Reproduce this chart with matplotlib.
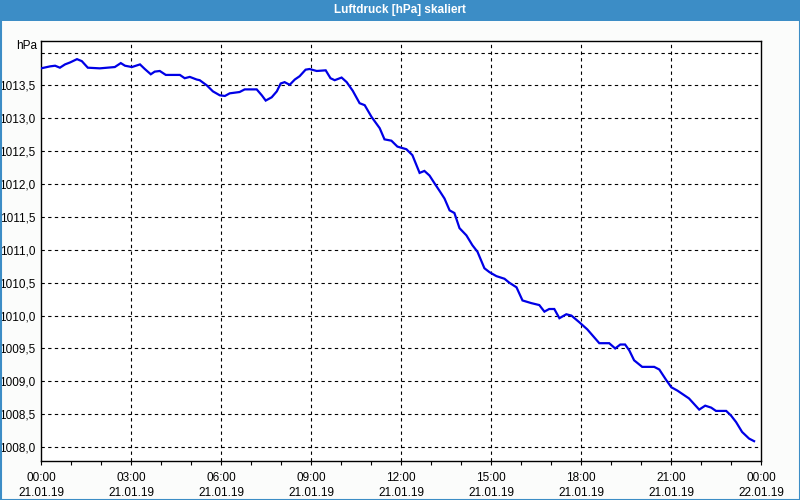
import matplotlib
matplotlib.use("Agg")
import matplotlib.pyplot as plt
from matplotlib.patches import Rectangle
from matplotlib.ticker import FixedLocator, MultipleLocator

plt.rcParams['font.family'] = ['Liberation Sans', 'DejaVu Sans']

# Data: time in hours since 21.01.19 00:00, pressure in hPa
hours = [0.00, 0.30, 0.47, 0.63, 0.80, 0.97, 1.20, 1.36, 1.56, 1.96, 2.46, 2.66, 2.80,
         3.03, 3.30, 3.46, 3.66, 3.79, 3.96, 4.16, 4.63, 4.79, 4.96, 5.19, 5.29, 5.53,
         5.73, 5.96, 6.13, 6.29, 6.62, 6.79, 7.19, 7.36, 7.49, 7.69, 7.86, 7.99, 8.12,
         8.29, 8.46, 8.62, 8.82, 8.95, 9.19, 9.49, 9.65, 9.79, 10.02, 10.19, 10.39,
         10.62, 10.79, 11.02, 11.29, 11.45, 11.68, 11.88, 12.18, 12.38, 12.62, 12.78,
         12.95, 13.12, 13.28, 13.45, 13.62, 13.78, 13.95, 14.18, 14.38, 14.55, 14.78,
         14.95, 15.18, 15.45, 15.61, 15.85, 16.05, 16.34, 16.61, 16.78, 16.94, 17.11,
         17.28, 17.51, 17.68, 17.94, 18.21, 18.61, 18.94, 19.14, 19.31, 19.47, 19.61,
         19.77, 20.04, 20.44, 20.61, 20.84, 21.01, 21.21, 21.60, 21.94, 22.14, 22.34,
         22.50, 22.84, 23.00, 23.17, 23.37, 23.60, 23.77]
pressure = [1013.76, 1013.79, 1013.80, 1013.77, 1013.82, 1013.85, 1013.90, 1013.87,
            1013.77, 1013.76, 1013.78, 1013.84, 1013.80, 1013.78, 1013.82, 1013.75,
            1013.67, 1013.71, 1013.72, 1013.66, 1013.66, 1013.61, 1013.63, 1013.59,
            1013.58, 1013.50, 1013.41, 1013.35, 1013.34, 1013.38, 1013.40, 1013.44,
            1013.44, 1013.35, 1013.27, 1013.32, 1013.41, 1013.53, 1013.55, 1013.51,
            1013.59, 1013.64, 1013.74, 1013.75, 1013.72, 1013.73, 1013.61, 1013.58,
            1013.62, 1013.55, 1013.42, 1013.23, 1013.20, 1013.02, 1012.85, 1012.68,
            1012.66, 1012.57, 1012.53, 1012.44, 1012.17, 1012.20, 1012.13, 1012.01,
            1011.90, 1011.78, 1011.60, 1011.56, 1011.33, 1011.22, 1011.07, 1010.97,
            1010.72, 1010.66, 1010.60, 1010.56, 1010.50, 1010.43, 1010.23, 1010.19,
            1010.16, 1010.06, 1010.10, 1010.10, 1009.96, 1010.02, 1010.00, 1009.90,
            1009.79, 1009.58, 1009.58, 1009.50, 1009.56, 1009.56, 1009.47, 1009.32,
            1009.22, 1009.22, 1009.18, 1009.02, 1008.91, 1008.86, 1008.74, 1008.57,
            1008.63, 1008.60, 1008.55, 1008.55, 1008.48, 1008.38, 1008.23, 1008.13,
            1008.09]

x_ticks = [0, 3, 6, 9, 12, 15, 18, 21, 24]
x_labels = ["00:00\n21.01.19", "03:00\n21.01.19", "06:00\n21.01.19", "09:00\n21.01.19",
            "12:00\n21.01.19", "15:00\n21.01.19", "18:00\n21.01.19", "21:00\n21.01.19",
            "00:00\n22.01.19"]
y_ticks = [1008.0, 1008.5, 1009.0, 1009.5, 1010.0, 1010.5, 1011.0, 1011.5,
           1012.0, 1012.5, 1013.0, 1013.5]
y_grid = y_ticks + [1014.0]

title = "Luftdruck [hPa] skaliert"
unit = "hPa"

W, H = 800, 500
fig = plt.figure(figsize=(8, 5), dpi=100)
fig.patch.set_facecolor("#fbfcfb")

# title bar and window border
fig.add_artist(Rectangle((0, 1 - 21 / H), 1, 21 / H, transform=fig.transFigure,
                         facecolor="#3c8dc6", edgecolor="none", zorder=0))
fig.add_artist(Rectangle((0.5 / W, 0.5 / H), 1 - 1 / W, 1 - 1 / H, transform=fig.transFigure,
                         facecolor="none", edgecolor="#3c8dc6", linewidth=1.5, zorder=5))
fig.text(0.5, 1 - 10.5 / H, title, ha="center", va="center", color="white",
         fontsize=8.5, fontweight="bold")

left, right, top, bottom = 41, 761, 41, 460.5
ax = fig.add_axes([left / W, 1 - bottom / H, (right - left) / W, (bottom - top) / H])
ax.set_facecolor("white")
ax.plot(hours, pressure, color="#0000e6", linewidth=1.6, solid_joinstyle="miter", zorder=3)

ax.set_xlim(0, 24)
ax.set_ylim(1007.796, 1014.176)

ax.xaxis.set_major_locator(FixedLocator(x_ticks))
ax.xaxis.set_minor_locator(MultipleLocator(1))
ax.set_xticks(x_ticks)
ax.set_xticklabels(x_labels, fontsize=8.5, linespacing=1.35)
ax.set_yticks(y_ticks)
ax.set_yticklabels([f"{v:.1f}".replace(".", ",") for v in y_ticks], fontsize=8.5)

ax.tick_params(axis="x", which="both", direction="out", length=3, width=0.8, pad=5,
               colors="black")
ax.tick_params(axis="y", which="both", length=0, pad=4)

for v in y_grid:
    ax.axhline(v, color="black", linestyle=(0, (3, 3)), linewidth=0.8, zorder=1)
for h in x_ticks[1:-1]:
    ax.axvline(h, color="black", linestyle=(0, (3, 3)), linewidth=0.8, zorder=1)

for s in ax.spines.values():
    s.set_linewidth(1.0)
    s.set_color("black")

fig.text(37 / W, 1 - 46 / H, unit, ha="right", va="center", fontsize=8.5)

fig.savefig("out.png", dpi=100, facecolor=fig.get_facecolor())
